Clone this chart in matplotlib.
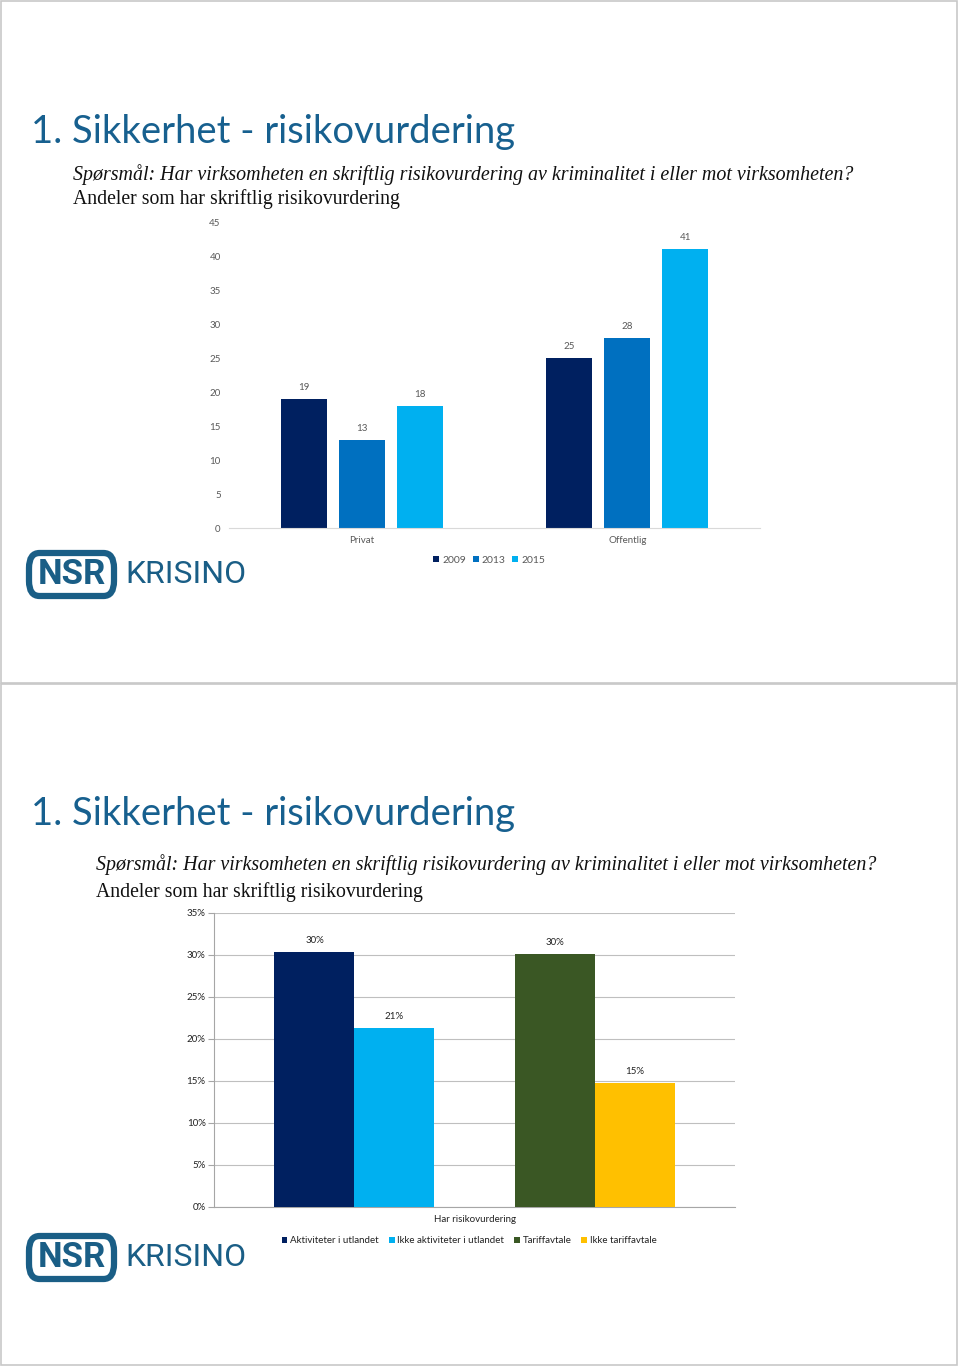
import matplotlib
matplotlib.use("Agg")
import matplotlib.pyplot as plt
from matplotlib.patches import FancyBboxPatch, Rectangle
from matplotlib.ticker import FuncFormatter
import numpy as np

# chart 1: andel med skriftlig risikovurdering, per sektor og år
sektorer = ["Privat", "Offentlig"]
aar = ["2009", "2013", "2015"]
verdier_2009 = [19, 25]
verdier_2013 = [13, 28]
verdier_2015 = [18, 41]

# chart 2: har risikovurdering, per gruppe (prosent)
kategori2 = "Har risikovurdering"
grupper = ["Aktiviteter i utlandet", "Ikke aktiviteter i utlandet", "Tariffavtale", "Ikke tariffavtale"]
andeler = [30.4, 21.3, 30.1, 14.8]

tittel = "1. Sikkerhet - risikovurdering"
sporsmal = "Spørsmål: Har virksomheten en skriftlig risikovurdering av kriminalitet i eller mot virksomheten?"
undertittel = "Andeler som har skriftlig risikovurdering"

plt.rcParams["font.family"] = ["Lato", "DejaVu Sans"]

W, H = 960, 1367
fig = plt.figure(figsize=(W / 100, H / 100), dpi=100)

def fx(x):
    return x / W

def fy(y):
    return 1 - y / H

def axes_px(left, top, right, bottom):
    return fig.add_axes([fx(left), fy(bottom), (right - left) / W, (bottom - top) / H])

tittelfarge = "#17608F"
logofarge = "#1A5E86"

# slide frames
for top, bot in [(1, 683), (684, 1365)]:
    fig.patches.append(Rectangle((fx(1), fy(bot)), 956 / W, (bot - top) / H,
                                 transform=fig.transFigure, fill=False,
                                 edgecolor="#c8c8c8", linewidth=1.2))

def slide_text(y0, sub_x, sub_y1, sub_y2):
    fig.text(fx(31), fy(y0), tittel, fontsize=27.5, color=tittelfarge,
             family="Lato", va="baseline")
    fig.text(fx(sub_x), fy(sub_y1), sporsmal, fontsize=14.4, style="italic",
             family="Liberation Serif", va="center", color="#111111")
    fig.text(fx(sub_x), fy(sub_y2), undertittel, fontsize=14.2,
             family="Liberation Serif", va="center", color="#111111")

def logo(y_top):
    fig.patches.append(FancyBboxPatch((fx(29), fy(y_top + 45)), 85 / W, 43 / H,
                                      boxstyle="round,pad=0,rounding_size=0.011",
                                      transform=fig.transFigure, fill=False,
                                      edgecolor=logofarge, linewidth=4.5))
    fig.text(fx(71.5), fy(y_top + 23.5), "NSR", fontsize=25, fontweight="bold",
             family="Roboto", color=logofarge, ha="center", va="center")
    fig.text(fx(125), fy(y_top + 23.5), "KRISINO", fontsize=23, family="Roboto",
             color=logofarge, ha="left", va="center")

slide_text(143, 73, 175, 199)
logo(551)
slide_text(825, 96, 865, 892)
logo(1234)

# ---- chart 1 ----
ax1 = axes_px(229, 222, 760, 528)
farger1 = ["#002060", "#0070C0", "#00B0F0"]
x = np.arange(len(sektorer))
bw = 0.173
step = 0.219
for i, (serie, farge) in enumerate(zip([verdier_2009, verdier_2013, verdier_2015], farger1)):
    pos = x + (i - 1) * step
    bars = ax1.bar(pos, serie, width=bw, color=farge, label=aar[i])
    for b, v in zip(bars, serie):
        ax1.text(b.get_x() + b.get_width() / 2, v + 1.0, str(v), ha="center",
                 va="bottom", fontsize=7, color="#595959")
ax1.set_xlim(-0.5, 1.5)
ax1.set_ylim(0, 45)
ax1.set_yticks(range(0, 46, 5))
ax1.set_xticks(x)
ax1.set_xticklabels(sektorer)
for s in ["top", "right", "left"]:
    ax1.spines[s].set_visible(False)
ax1.spines["bottom"].set_color("#d9d9d9")
ax1.tick_params(axis="both", length=0, labelsize=7, colors="#595959", pad=6)
ax1.legend(loc="upper center", bbox_to_anchor=(0.49, -0.06), ncol=3, frameon=False,
           fontsize=7.5, labelcolor="#595959", handlelength=0.6, handleheight=0.6,
           handletextpad=0.3, columnspacing=0.6)

# ---- chart 2 ----
ax2 = axes_px(214, 913, 735, 1207)
farger2 = ["#002060", "#00B0F0", "#3A5724", "#FFC000"]
bw2 = 0.1536
offs = [-2, -1, 1, 2]
for g, v, f, o in zip(grupper, andeler, farger2, offs):
    ax2.bar(o * bw2, v, width=bw2, color=f, label=g, zorder=3)
    ax2.text(o * bw2, v + 0.8, f"{round(v)}%", ha="center",
             va="bottom", fontsize=7, color="#222222")
ax2.set_xlim(-0.5, 0.5)
ax2.set_ylim(0, 35)
ax2.set_yticks(range(0, 36, 5))
ax2.yaxis.set_major_formatter(FuncFormatter(lambda v, p: f"{int(v)}%"))
ax2.set_xticks([0])
ax2.set_xticklabels([kategori2])
ax2.grid(axis="y", color="#bfbfbf", linewidth=0.8, zorder=0)
ax2.spines["top"].set_visible(False)
ax2.spines["right"].set_visible(False)
ax2.spines["left"].set_color("#a6a6a6")
ax2.spines["bottom"].set_color("#a6a6a6")
ax2.tick_params(axis="y", length=4, color="#a6a6a6", labelsize=7, labelcolor="#222222", pad=2)
ax2.tick_params(axis="x", length=0, labelsize=7, labelcolor="#222222", pad=6)
ax2.legend(loc="upper center", bbox_to_anchor=(0.49, -0.07), ncol=4, frameon=False,
           fontsize=7, labelcolor="#222222", handlelength=0.6, handleheight=0.6,
           handletextpad=0.3, columnspacing=1.0)

fig.savefig("out.png", dpi=100)
